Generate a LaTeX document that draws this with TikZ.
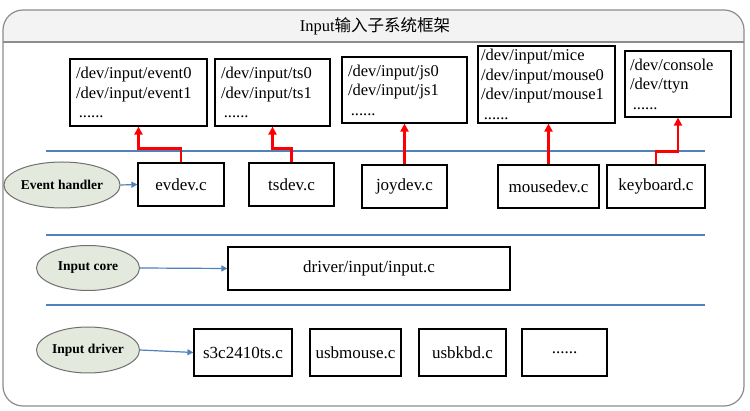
\documentclass[tikz,border=0pt]{standalone}
\usepackage{fontspec}
\setmainfont{Liberation Serif}
\newfontfamily\cjk{Noto Sans CJK SC}
\usepackage{tikz}
\usetikzlibrary{positioning}
\usetikzlibrary{shapes.geometric}
\usetikzlibrary{arrows.meta}

\definecolor{layerblue}{HTML}{4F81BD}
\definecolor{ovalfill}{HTML}{E4E9DE}
\definecolor{framegray}{HTML}{8C8C8C}
\definecolor{headfill}{HTML}{F3F3F3}

\begin{document}
\begin{tikzpicture}[x=1pt, y=-1pt,
                          filebox/.style={rectangle, draw, line width=1.2pt, align=left, inner xsep=6pt, font=\fontsize{16.5}{19.5}\selectfont},
                          srcbox/.style={rectangle, draw, line width=1.2pt, minimum height=43, font=\fontsize{17}{19.5}\selectfont},
                          layernode/.style={ellipse, draw=framegray!80!black, line width=1pt, fill=ovalfill, inner sep=0pt, font=\fontsize{13.5}{15}\selectfont\bfseries},
                          layerline/.style={layerblue, line width=2.8pt},
                          bluearrow/.style={->, >={Triangle[length=6pt, width=6pt]}, layerblue, line width=1.2pt},
                          redarrow/.style={->, >={Triangle[length=8pt, width=8pt]}, red, line width=2.8pt},
                      ]
                      \useasboundingbox (0,0) rectangle (750,411);

                      % Frame
                      \fill[white, rounded corners=20] (3,10) rectangle (744,406);
                      \fill[headfill] (3,42) {[rounded corners=20] -- (3,10) -- (744,10)} -- (744,42) -- cycle;
                      \draw[framegray, line width=1.2pt, rounded corners=20] (3,10) rectangle (744,406);
                      \draw[framegray, line width=1.2pt] (3,42) -- (744,42);
                      \node (title) at (375,26) {\fontsize{16.5}{19}\selectfont Input{\cjk 输入子系统框架}};

                      % Separators
                      \draw[layerline] (46,151) -- (705,151);
                      \draw[layerline] (46,235) -- (705,235);
                      \draw[layerline] (46,305) -- (705,305);

                      % Nodes
                      \node[filebox, minimum height=67, text width=125pt] (dev_event) at (138.5,92.5) {/dev/input/event0\\/dev/input/event1\\\,......};
                      \node[filebox, minimum height=67, text width=103pt] (dev_ts)    at (272.5,92.5) {/dev/input/ts0\\/dev/input/ts1\\\,......};
                      \node[filebox, minimum height=66, text width=113pt] (dev_js)    at (404.5,90)   {/dev/input/js0\\/dev/input/js1\\\,......};
                      \node[filebox, minimum height=77, text width=131pt, inner xsep=3pt] (dev_mouse) at (546.5,84.5) {/dev/input/mice\\/dev/input/mouse0\\/dev/input/mouse1\\\,......};
                      \node[filebox, minimum height=66, text width=96pt, inner xsep=5pt] (dev_console) at (678,84) {/dev/console\\/dev/ttyn\\\,......};

                      \node[layernode, minimum width=114, minimum height=46] (event_handler) at (62,185) {Event handler};
                      \node[srcbox, minimum width=86]  (evdev)    at (181,184.5)   {evdev.c};
                      \node[srcbox, minimum width=85]  (tsdev)    at (291.5,184.5) {tsdev.c};
                      \node[srcbox, minimum width=85]  (joydev)   at (404.5,186.5) {joydev.c};
                      \node[srcbox, minimum width=101] (mousedev) at (548.5,186.5) {mousedev.c};
                      \node[srcbox, minimum width=98]  (keyboard) at (656,186.5)   {keyboard.c};

                      \node[layernode, minimum width=103, minimum height=45] (input_core) at (88,268) {Input core};
                      \node[srcbox, minimum width=282] (input_c) at (369,268.5) {driver/input/input.c};

                      \node[layernode, minimum width=103, minimum height=46] (input_driver) at (88,350) {Input driver};
                      \node[srcbox, minimum width=98, minimum height=47] (s3c2410ts) at (243,352.5)   {s3c2410ts.c};
                      \node[srcbox, minimum width=91, minimum height=47] (usbmouse)  at (355.5,352.5) {usbmouse.c};
                      \node[srcbox, minimum width=87, minimum height=47] (usbkbd)    at (462.5,352.5) {usbkbd.c};
                      \node[srcbox, minimum width=85, minimum height=47] (more_drv)  at (564.5,352.5) {......};

                      %Lines
                      \draw[bluearrow] (event_handler.east) -- (evdev.west);
                      \draw[bluearrow] (input_core.east) -- (input_c.west);
                      \draw[bluearrow] (input_driver.east) -- (s3c2410ts.west);

                      \draw[redarrow] (evdev.north) -- ++(0,-14) -| (dev_event.south);
                      \draw[redarrow] (tsdev.north) -- ++(0,-14) -| (dev_ts.south);
                      \draw[redarrow] (joydev.north) -- (dev_js.south);
                      \draw[redarrow] (mousedev.north) -- (mousedev.north |- dev_mouse.south);
                      \draw[redarrow] (keyboard.north) -- ++(0,-13) -| (dev_console.south);
                  \end{tikzpicture}
\end{document}
